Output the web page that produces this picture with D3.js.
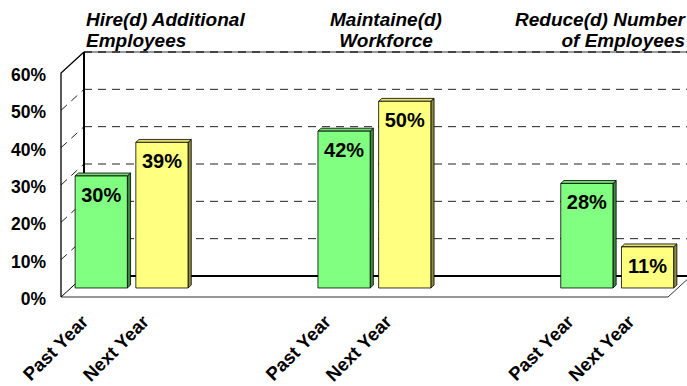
<!DOCTYPE html>
<html><head><meta charset="utf-8">
<script src="https://cdn.jsdelivr.net/npm/d3@7"></script>
<style>body{margin:0;background:#fff}svg{display:block}text{font-family:Arial,"Liberation Sans",sans-serif;font-weight:bold}</style>
</head><body><svg id="c" width="687" height="386"></svg>
<script>
const groupTitles = [["Hire(d) Additional","Employees"],["Maintaine(d)","Workforce"],["Reduce(d) Number","of Employees"]];
const periods = ["Past Year","Next Year"];
const pastYear = [30,42,28];
const nextYear = [39,50,11];
const yTicks = [0,10,20,30,40,50,60];
const slots = d3.range(10); // 2 bars per group + 2 blank slots between groups

const W=687,H=386, X0=61, DX=23, DY=21, plotW=607;
const svg=d3.select("#c");
const y=d3.scaleLinear().domain([0,60]).range([297,73]);
const xs=d3.scaleBand().domain(slots).range([0,plotW]).paddingInner(0.14).paddingOuter(0.07);
const P=(x,v,z)=>[X0+x+DX*z, y(v)-DY*z];
const line=d3.line();
svg.append("defs").append("clipPath").attr("id","cl").append("rect").attr("width",W).attr("height",H);
const g=svg.append("g").attr("clip-path","url(#cl)");

// back wall gridlines
yTicks.forEach(v=>{
  if(v===0) return;
  const a=P(0,v,1), b=P(plotW,v,1);
  if(v===60){
    g.append("path").attr("d",line([a,b])).attr("stroke","#999").attr("stroke-width",2).attr("fill","none");
    g.append("path").attr("d",line([a,b])).attr("stroke","#444").attr("stroke-width",2).attr("stroke-dasharray","8,6").attr("fill","none");
  } else {
    g.append("path").attr("d",line([a,b])).attr("stroke","#222").attr("stroke-width",1).attr("stroke-dasharray","8,6").attr("fill","none");
    g.append("path").attr("d",line([P(0,v,0),P(0,v,1)])).attr("stroke","#222").attr("stroke-width",1).attr("stroke-dasharray","8,6").attr("fill","none");
  }
});
g.append("path").attr("d",line([P(0,60,1),P(0,0,1)])).attr("stroke","#000").attr("stroke-width",2).attr("fill","none");
g.append("path").attr("d",line([P(0,0,1),P(plotW,0,1)])).attr("stroke","#000").attr("stroke-width",2).attr("fill","none");
g.append("path").attr("d",line([P(0,0,0),P(plotW,0,0),P(plotW,0,1)])).attr("stroke","#333").attr("stroke-width",1).attr("fill","none");
g.append("path").attr("d",line([P(0,0,0),P(0,0,1)])).attr("stroke","#000").attr("stroke-width",1).attr("fill","none");
g.append("path").attr("d",line([P(0,0,0),P(0,60,0),P(0,60,1)])).attr("stroke","#000").attr("stroke-width",1.3).attr("fill","none");

// bars
const z0=0.43, z1=0.57;
const colors=[{front:"#80FF80",top:"#6fdc6f",side:"#3d8a3d"},{front:"#FFFF80",top:"#e0e070",side:"#8c8c3c"}];
const bars=[];
pastYear.forEach((v,i)=>bars.push({g:i,p:0,v}));
nextYear.forEach((v,i)=>bars.push({g:i,p:1,v}));
bars.forEach(d=>{
  const x0=xs(d.g*4+d.p), x1=x0+xs.bandwidth(), c=colors[d.p];
  const poly=(pts,fill)=>g.append("path").attr("d",line(pts)+"Z").attr("fill",fill).attr("stroke","#000").attr("stroke-width",0.8).attr("stroke-linejoin","round");
  poly([P(x1,0,z0),P(x1,0,z1),P(x1,d.v,z1),P(x1,d.v,z0)],c.side);
  poly([P(x0,d.v,z0),P(x1,d.v,z0),P(x1,d.v,z1),P(x0,d.v,z1)],c.top);
  poly([P(x0,0,z0),P(x1,0,z0),P(x1,d.v,z0),P(x0,d.v,z0)],c.front);
  const ft=P((x0+x1)/2,d.v,z0);
  svg.append("text").attr("x",ft[0]).attr("y",ft[1]+26).attr("text-anchor","middle").attr("font-size",20).attr("fill","#000").text(d.v+"%");
  const lb=P((x0+x1)/2,0,0);
  svg.append("text").attr("transform",`translate(${lb[0]-2},${lb[1]+26}) rotate(-45)`).attr("text-anchor","end").attr("font-size",18.5).attr("fill","#000").text(periods[d.p]);
});

yTicks.forEach(v=>{
  svg.append("text").attr("x",46).attr("y",y(v)+8).attr("text-anchor","end").attr("font-size",17.5).attr("fill","#000").text(v+"%");
});

groupTitles.forEach((t,i)=>{
  let anchor, x;
  if(i===0){anchor="start"; x=86;}
  else if(i===1){anchor="middle"; x=386;}
  else {anchor="end"; x=685;}
  t.forEach((s,j)=>svg.append("text").attr("x",x).attr("y",26+j*20.5).attr("text-anchor",anchor).attr("font-size",19).attr("font-style","italic").attr("fill","#000").text(s));
});
</script></body></html>
